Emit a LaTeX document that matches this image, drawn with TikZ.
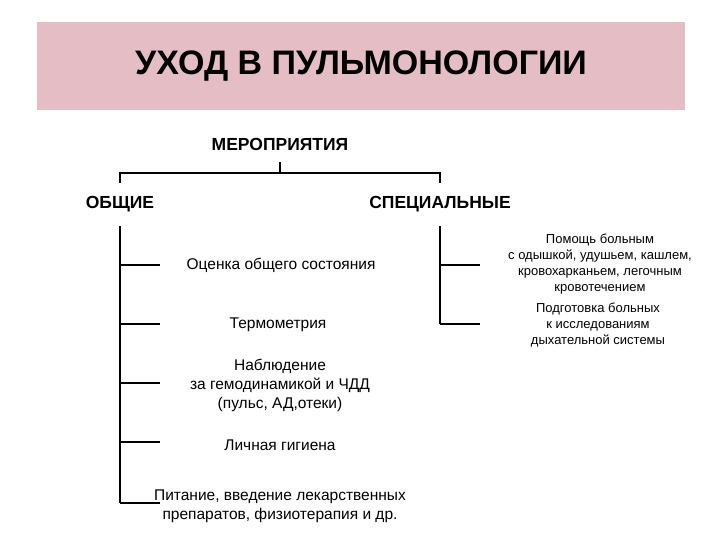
\documentclass[tikz,border=0pt]{standalone}
\usepackage{fontspec}
\setmainfont{Liberation Sans}
\begin{document}
\begin{tikzpicture}[x=1pt,y=-1pt,
  ln/.style={line width=1.2pt,black},
  hd/.style={font=\fontsize{17.5}{20}\selectfont\bfseries},
  it/.style={font=\fontsize{15.5}{19}\selectfont,align=center},
  sp/.style={font=\fontsize{13}{16}\selectfont,align=center}]
\useasboundingbox (0,0) rectangle (720,540);
\fill[white] (0,0) rectangle (720,540);
\node[fill={rgb,255:red,229;green,190;blue,197},minimum width=648pt,minimum height=88pt,
  font=\fontsize{34}{40}\selectfont\bfseries] (title) at (361,66) {УХОД В ПУЛЬМОНОЛОГИИ};
\node[hd] (mer) at (280,144) {МЕРОПРИЯТИЯ};
\node[hd] (obs) at (120,204) {ОБЩИЕ};
\node[hd] (spe) at (440,204) {СПЕЦИАЛЬНЫЕ};
\coordinate (c) at (280,173);
\draw[ln] (280,162) -- (c);
\draw[ln] (120,183) -- (120,173) -- (440,173) -- (440,183);
\node[it] (a1) at (281,265) {Оценка общего состояния};
\node[it] (a2) at (278,325) {Термометрия};
\node[it] (a3) at (280,385) {Наблюдение\\за гемодинамикой и ЧДД\\(пульс, АД,отеки)};
\node[it] (a4) at (280,445) {Личная гигиена};
\node[it] (a5) at (280,506) {Питание, введение лекарственных\\препаратов, физиотерапия и др.};
\node[sp] (b1) at (600,264) {Помощь больным\\с одышкой, удушьем, кашлем,\\кровохарканьем, легочным\\кровотечением};
\node[sp] (b2) at (598,325) {Подготовка больных\\к исследованиям\\дыхательной системы};
\draw[ln] (120,226) -- (120,503);
\foreach \y in {265,324,383,442,503} \draw[ln] (120,\y) -- (160,\y);
\draw[ln] (440,226) -- (440,324);
\foreach \y in {265,324} \draw[ln] (440,\y) -- (480,\y);
\end{tikzpicture}
\end{document}
